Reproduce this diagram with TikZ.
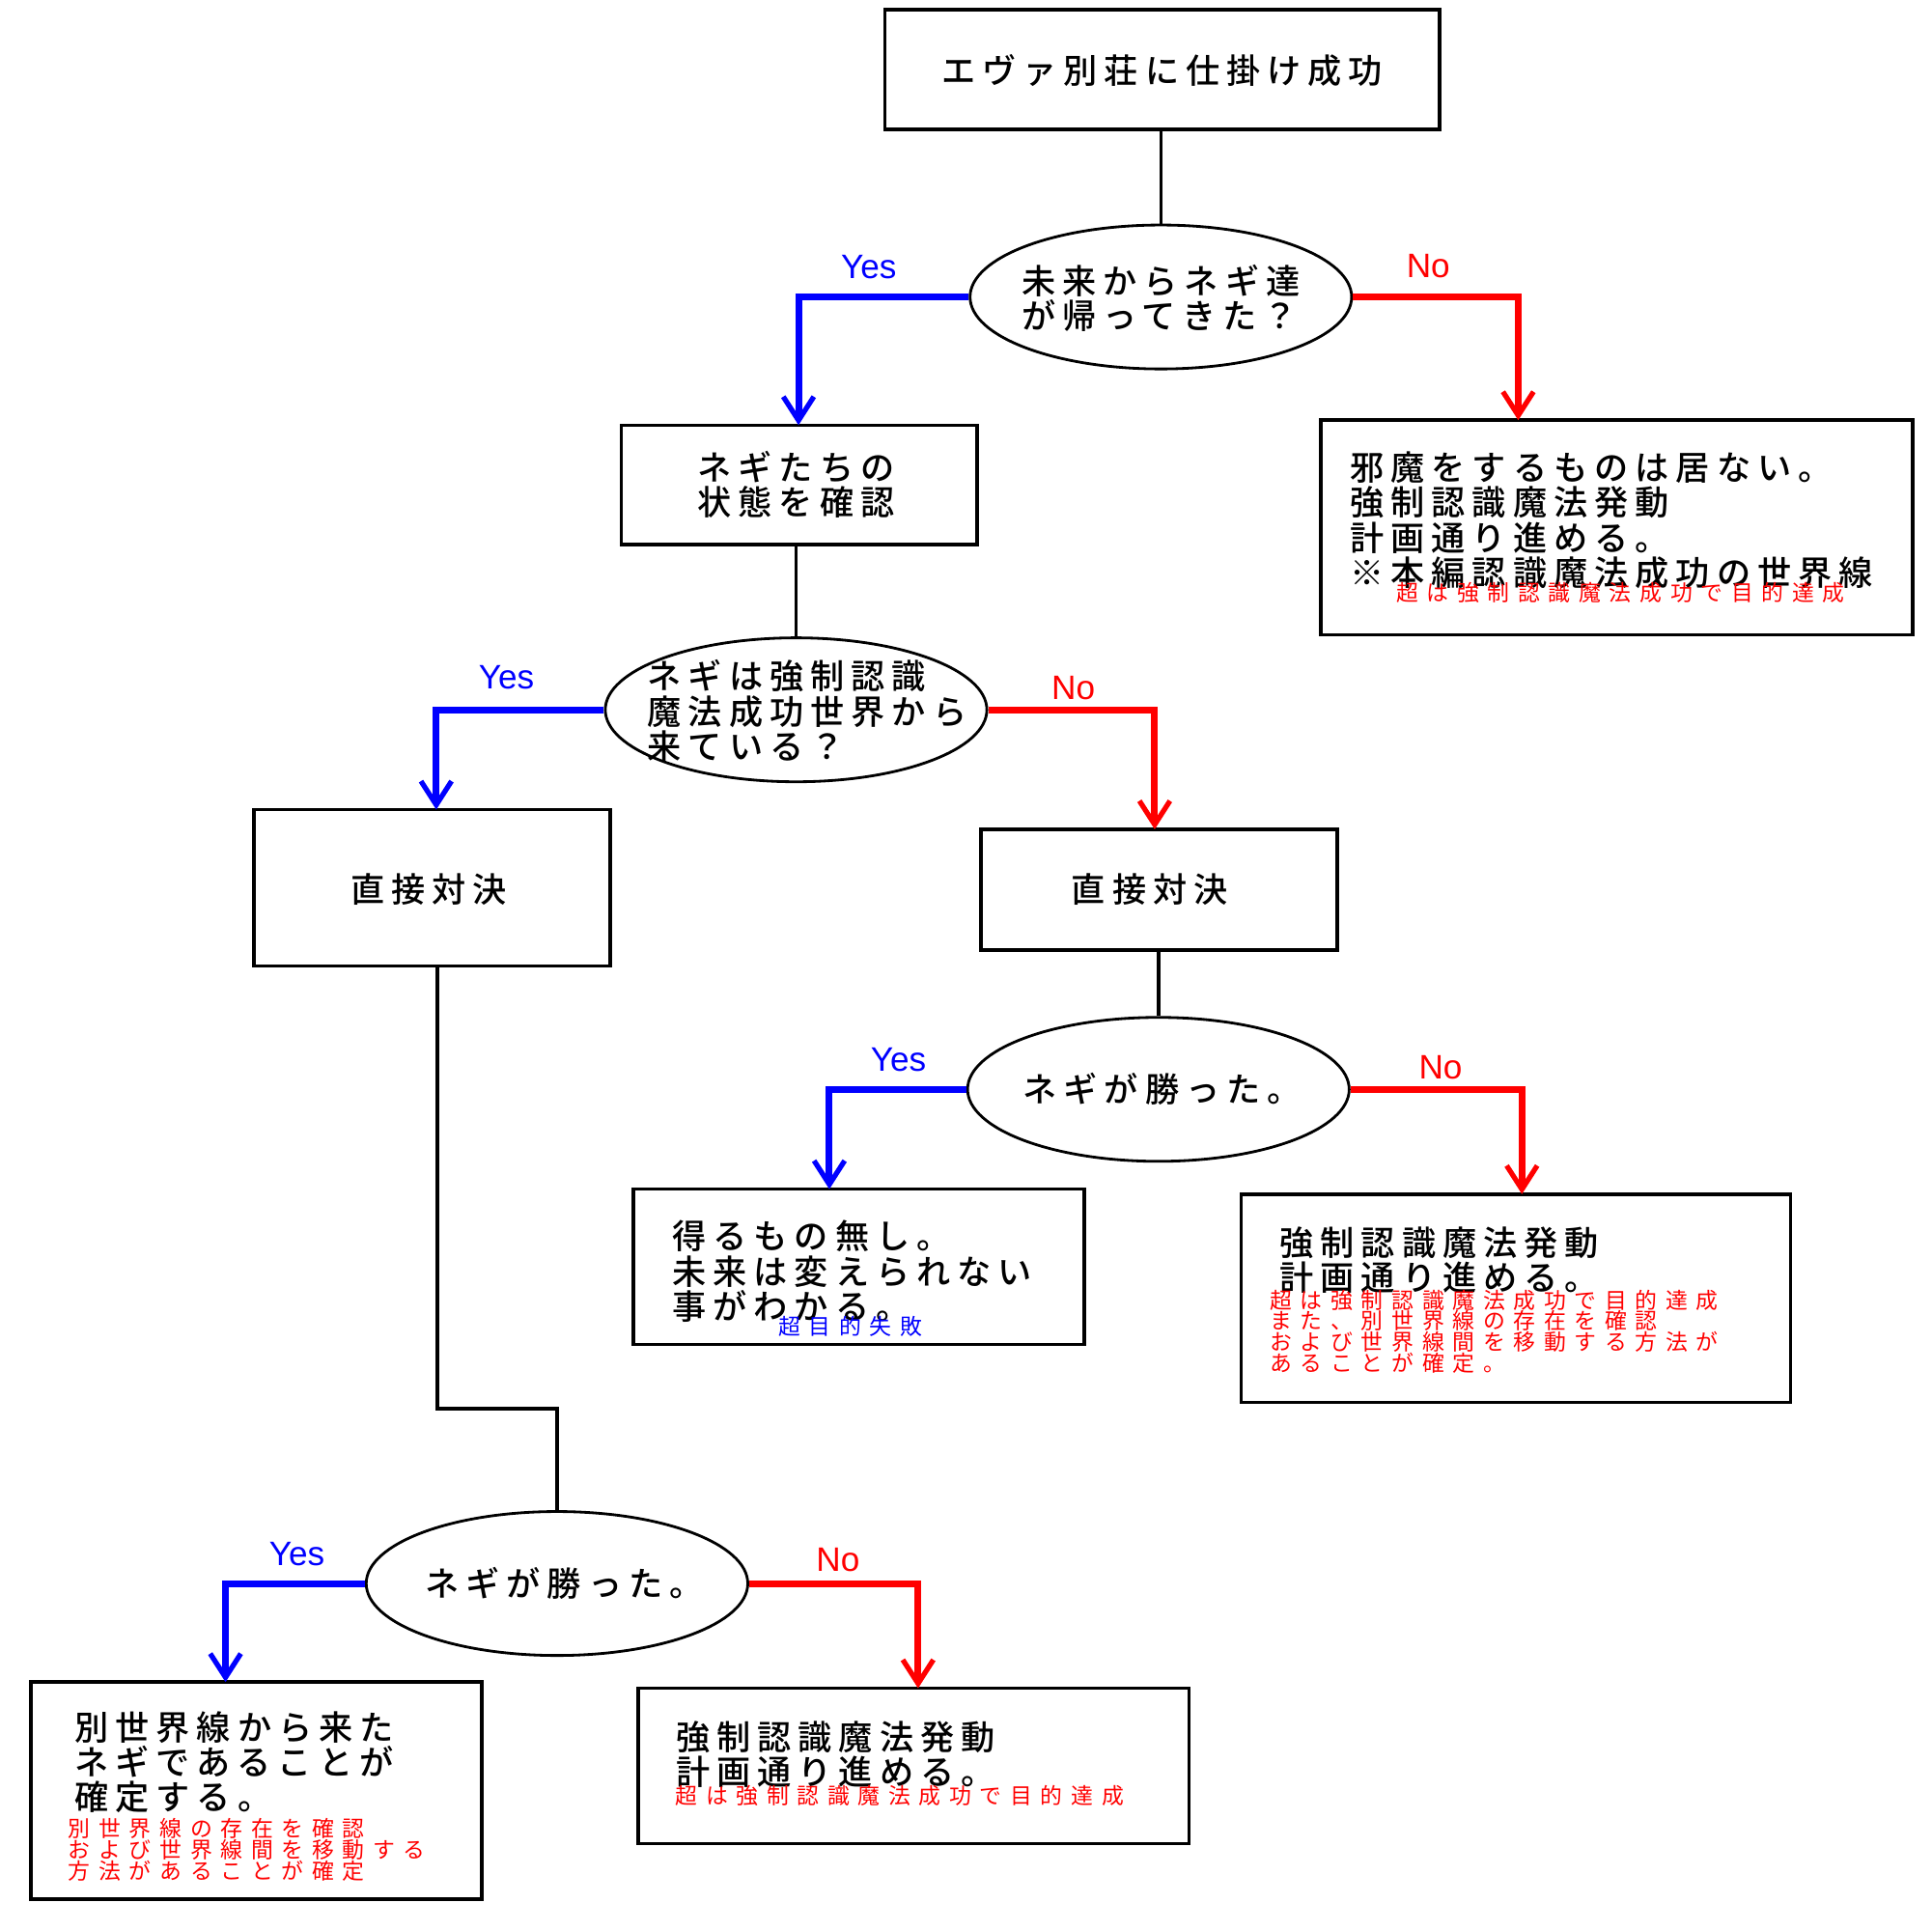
\documentclass[tikz,border=0pt]{standalone}
\usepackage{fontspec}
\setmainfont{Liberation Sans}
\newfontfamily\jp{Noto Sans CJK JP Medium}[LetterSpace=20]
\newfontfamily\jps{Noto Sans CJK JP}[LetterSpace=38]
\usetikzlibrary{arrows.meta,shapes.geometric}
\begin{document}
\begin{tikzpicture}[x=0.01276cm,y=-0.01276cm,
  box/.style={draw,line width=1pt,inner sep=0pt},
  ell/.style={draw,ellipse,line width=0.8pt,minimum width=3.95cm,minimum height=1.49cm, inner sep=0pt},
  txt/.style={font=\jp\fontsize{10}{8.6}\selectfont,align=left,inner sep=0pt},
  red/.style={font=\jps\fontsize{6.5}{6.2}\selectfont,align=left,inner sep=0pt,text=red},
  blu/.style={font=\jps\fontsize{6.5}{6.2}\selectfont,inner sep=0pt,text=blue},
  yes/.style={draw=blue,line width=2pt,-{Straight Barb[length=7pt,width=9pt,line width=1.5pt]}},
  no/.style={draw=red,line width=2pt,-{Straight Barb[length=7pt,width=9pt,line width=1.5pt]}},
  ln/.style={line width=1pt},
  yl/.style={text=blue,font=\fontsize{10}{10}\selectfont},
  nl/.style={text=red,font=\fontsize{10}{10}\selectfont}]
\useasboundingbox (0,0) rectangle (1567,1567);
% boxes
\draw[box] (718,8) rectangle (1168,105);
\node[txt] (t0) at (943,57) {エヴァ別荘に仕掛け成功};
\coordinate (b0) at (942,105);
\draw[box] (504,345) rectangle (793,442);
\node[txt] (t1) at (646,393) {ネギたちの\\状態を確認};
\coordinate (b1t) at (648,345); \coordinate (b1b) at (646,442);
\draw[box] (1072,341) rectangle (1552,515);
\node[txt,anchor=north west] (t2) at (1095,366) {邪魔をするものは居ない。\\強制認識魔法発動\\計画通り進める。\\※本編認識魔法成功の世界線};
\node[red] (r2) at (1315,481) {超は強制認識魔法成功で目的達成};
\coordinate (b2t) at (1232,341);
\draw[box] (206,657) rectangle (495,784);
\node[txt] (t3) at (348,722) {直接対決};
\coordinate (b3t) at (354,657); \coordinate (b3b) at (355,784);
\draw[box] (796,673) rectangle (1085,771);
\node[txt] (t4) at (933,722) {直接対決};
\coordinate (b4t) at (937,673); \coordinate (b4b) at (940,771);
\draw[box] (514,965) rectangle (880,1091);
\node[txt,anchor=north west] (t5) at (545,990) {得るもの無し。\\未来は変えられない\\事がわかる。};
\node[blu] (r5) at (690,1076) {超目的失敗};
\coordinate (b5t) at (673,965);
\draw[box] (1007,969) rectangle (1453,1138);
\node[txt,anchor=north west] (t6) at (1038,995) {強制認識魔法発動\\計画通り進める。};
\node[red,anchor=north west] (r6) at (1030,1046) {超は強制認識魔法成功で目的達成\\また、別世界線の存在を確認\\および世界線間を移動する方法が\\あることが確定。};
\coordinate (b6t) at (1235,969);
\draw[box] (25,1365) rectangle (391,1541);
\node[txt,anchor=north west] (t7) at (60,1388) {別世界線から来た\\ネギであることが\\確定する。};
\node[red,anchor=north west] (r7) at (55,1475) {別世界線の存在を確認\\および世界線間を移動する\\方法があることが確定};
\coordinate (b7t) at (183,1365);
\draw[box] (518,1370) rectangle (965,1496);
\node[txt,anchor=north west] (t8) at (548,1396) {強制認識魔法発動\\計画通り進める。};
\node[red] (r8) at (730,1457) {超は強制認識魔法成功で目的達成};
\coordinate (b8t) at (745,1370);
% ellipses
\node[ell] (e1) at (942,241) {};
\node[txt] at (942,242) {未来からネギ達\\が帰ってきた？};
\node[ell] (e2) at (646,576) {};
\node[txt] at (655,577) {ネギは強制認識\\魔法成功世界から\\来ている？};
\node[ell] (e3) at (940,884) {};
\node[txt] at (943,884) {ネギが勝った。};
\node[ell] (e4) at (452,1285) {};
\node[txt] at (458,1285) {ネギが勝った。};
% connectors
\draw[ln] (b0) -- (e1.north);
\draw[ln] (b1b) -- (e2.north);
\draw[ln] (b4b) -- (e3.north);
\draw[ln] (b3b) -- (355,1143) -- (452,1143) -- (e4.north);
\draw[yes] (e1.west) -- (648,241) -- (b1t);
\draw[no] (e1.east) -- (1232,241) -- (b2t);
\draw[yes] (e2.west) -- (354,576) -- (b3t);
\draw[no] (e2.east) -- (937,576) -- (b4t);
\draw[yes] (e3.west) -- (673,884) -- (b5t);
\draw[no] (e3.east) -- (1235,884) -- (b6t);
\draw[yes] (e4.west) -- (183,1285) -- (b7t);
\draw[no] (e4.east) -- (745,1285) -- (b8t);
% labels
\node[yl] (y1) at (705,217) {Yes};
\node[nl] (n1) at (1159,216) {No};
\node[yl] (y2) at (411,550) {Yes};
\node[nl] (n2) at (871,558) {No};
\node[yl] (y3) at (729,860) {Yes};
\node[nl] (n3) at (1169,866) {No};
\node[yl] (y4) at (241,1261) {Yes};
\node[nl] (n4) at (680,1266) {No};
\end{tikzpicture}
\end{document}
